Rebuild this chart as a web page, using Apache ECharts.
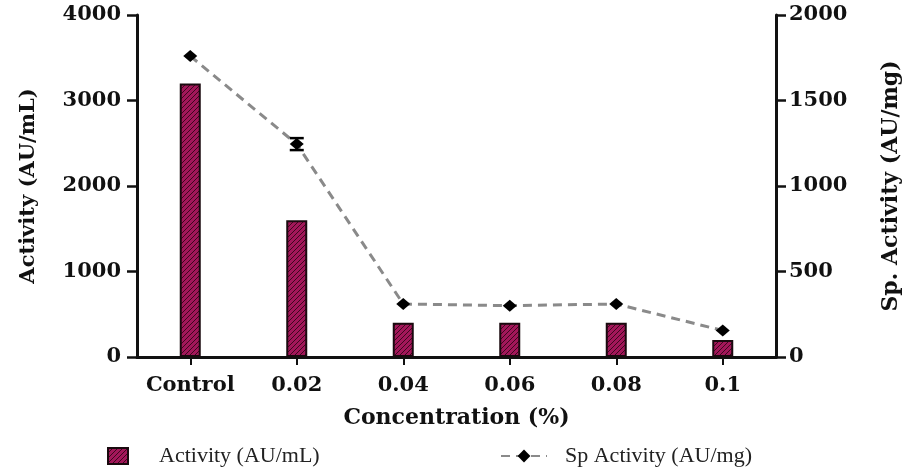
<!DOCTYPE html>
<html>
<head>
<meta charset="utf-8">
<script src="https://cdn.jsdelivr.net/npm/echarts@6/dist/echarts.min.js"></script>
<style>
html,body{margin:0;padding:0;background:#fff;}
#chart{width:910px;height:472px;}
</style>
</head>
<body>
<div id="chart"></div>
<script>
const categories = ['Control', '0.02', '0.04', '0.06', '0.08', '0.1'];
const activity = [3200, 1600, 400, 400, 400, 200];
const spActivity = [1760, 1245, 310, 300, 310, 155];
const spError = [0, 35, 0, 0, 0, 0];
const leftTicks = { min: 0, max: 4000, interval: 1000 };
const rightTicks = { min: 0, max: 2000, interval: 500 };

function hatch() {
  const c = document.createElement('canvas');
  c.width = 5; c.height = 5;
  const g = c.getContext('2d');
  g.fillStyle = '#a3175a';
  g.fillRect(0, 0, 5, 5);
  g.strokeStyle = 'rgba(45,5,20,0.85)';
  g.lineWidth = 1;
  g.beginPath();
  g.moveTo(-1, 6); g.lineTo(6, -1);
  g.moveTo(-1, 1); g.lineTo(1, -1);
  g.moveTo(4, 6); g.lineTo(6, 4);
  g.stroke();
  return c;
}

const chart = echarts.init(document.getElementById('chart'), null, { renderer: 'canvas' });
const tickFont = { fontFamily: 'DejaVu Serif', fontWeight: 'bold', fontSize: 21, color: '#111' };
const axisLine = { show: true, lineStyle: { color: '#111', width: 3 } };
const plain = v => String(v);

chart.setOption({
  animation: false,
  backgroundColor: '#fff',
  grid: { left: 137, right: 125, top: 15, bottom: 115 },
  legend: [
    {
      left: 102, top: 440,
      data: [{ name: 'Activity (AU/mL)', icon: 'rect' }],
      itemWidth: 20, itemHeight: 16,
      textStyle: { fontFamily: 'Liberation Serif', fontSize: 22, color: '#222', padding: [0, 0, 0, 26] }
    },
    {
      left: 495, top: 440,
      data: ['Sp Activity (AU/mg)'],
      itemWidth: 46, itemHeight: 16,
      textStyle: { fontFamily: 'Liberation Serif', fontSize: 22, color: '#222', padding: [0, 0, 0, 13] }
    }
  ],
  xAxis: {
    type: 'category',
    data: categories,
    name: 'Concentration (%)',
    nameLocation: 'middle',
    nameGap: 50,
    nameTextStyle: { fontFamily: 'DejaVu Serif', fontWeight: 'bold', fontSize: 22, color: '#111' },
    axisLine: axisLine,
    axisTick: { show: true, alignWithLabel: true, length: 8, lineStyle: { color: '#111', width: 2 } },
    axisLabel: Object.assign({ margin: 18, interval: 0 }, tickFont)
  },
  yAxis: [
    {
      type: 'value',
      min: leftTicks.min, max: leftTicks.max, interval: leftTicks.interval,
      name: 'Activity (AU/mL)',
      nameLocation: 'middle',
      nameGap: 98,
      nameRotate: 90,
      nameTextStyle: { fontFamily: 'DejaVu Serif', fontWeight: 'bold', fontSize: 21, color: '#111' },
      axisLine: axisLine,
      axisTick: { show: true, length: 10, lineStyle: { color: '#111', width: 2.5 } },
      axisLabel: Object.assign({ margin: 16, formatter: plain }, tickFont),
      splitLine: { show: false }
    },
    {
      type: 'value',
      position: 'right',
      min: rightTicks.min, max: rightTicks.max, interval: rightTicks.interval,
      name: 'Sp. Activity (AU/mg)',
      nameLocation: 'middle',
      nameGap: 104,
      nameRotate: 90,
      nameTextStyle: { fontFamily: 'DejaVu Serif', fontWeight: 'bold', fontSize: 22, color: '#111' },
      axisLine: axisLine,
      axisTick: { show: true, length: 10, lineStyle: { color: '#111', width: 2.5 } },
      axisLabel: Object.assign({ margin: 13, formatter: plain }, tickFont),
      splitLine: { show: false }
    }
  ],
  series: [
    {
      name: 'Activity (AU/mL)',
      type: 'bar',
      data: activity,
      barWidth: 21,
      itemStyle: {
        color: { image: hatch(), repeat: 'repeat' },
        borderColor: '#1a0a0f',
        borderWidth: 2
      }
    },
    {
      name: 'Sp Activity (AU/mg)',
      type: 'line',
      yAxisIndex: 1,
      data: spActivity,
      symbol: 'diamond',
      symbolSize: [14, 12],
      itemStyle: { color: '#000' },
      lineStyle: { color: '#8a8a8a', width: 3, type: [9, 6] },
      z: 5
    },
    {
      type: 'custom',
      yAxisIndex: 1,
      data: categories.map((c, i) => [i, spActivity[i], spError[i]]),
      encode: { x: 0, y: 1 },
      z: 6,
      silent: true,
      renderItem: function (params, api) {
        const e = api.value(2);
        if (!e) return null;
        const i = api.value(0), v = api.value(1);
        const hi = api.coord([i, v + e]);
        const lo = api.coord([i, v - e]);
        const hw = 7;
        const st = { stroke: '#000', lineWidth: 2.5 };
        return {
          type: 'group',
          children: [
            { type: 'line', shape: { x1: hi[0], y1: hi[1], x2: lo[0], y2: lo[1] }, style: st },
            { type: 'line', shape: { x1: hi[0] - hw, y1: hi[1], x2: hi[0] + hw, y2: hi[1] }, style: st },
            { type: 'line', shape: { x1: lo[0] - hw, y1: lo[1], x2: lo[0] + hw, y2: lo[1] }, style: st }
          ]
        };
      }
    }
  ]
});
</script>
</body>
</html>
